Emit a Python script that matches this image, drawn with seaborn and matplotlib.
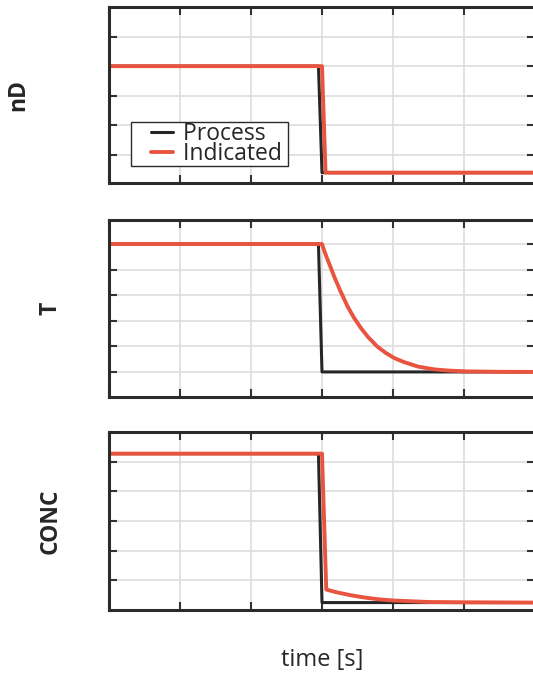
import numpy as np
import pandas as pd
import matplotlib
matplotlib.use("Agg")
import matplotlib.pyplot as plt
from matplotlib.legend_handler import HandlerLine2D
import seaborn as sns

# ---- data ----
series_names = ["Process", "Indicated"]
panel_labels = ["nD", "T", "CONC"]
x_label = "time [s]"

# nD panel
nd_proc_t = [0.0, 2.95, 3.0, 6.0]
nd_proc_v = [4.0, 4.0, 0.4, 0.4]
nd_ind_t = [0.0, 3.0, 3.05, 6.0]
nd_ind_v = [4.0, 4.0, 0.4, 0.4]

# T panel
t_proc_t = [0.0, 2.95, 3.0, 6.0]
t_proc_v = [5.0, 5.0, 0.0, 0.0]
t_ind_t = [0.0, 3.0, 3.03, 3.07, 3.12, 3.17, 3.25, 3.36, 3.45, 3.55, 3.65, 3.78, 3.9,
           4.02, 4.15, 4.35, 4.58, 4.8, 5.05, 5.5, 6.0]
t_ind_v = [5.0, 5.0, 4.75, 4.45, 4.1, 3.74, 3.22, 2.56, 2.12, 1.71, 1.36, 0.99, 0.74,
           0.54, 0.39, 0.21, 0.10, 0.05, 0.02, 0.005, 0.0]

# CONC panel
c_proc_t = [0.0, 2.95, 3.0, 6.0]
c_proc_v = [5.27, 5.27, 0.25, 0.25]
c_ind_t = [0.0, 3.0, 3.06, 3.2, 3.4, 3.6, 3.8, 4.0, 4.5, 5.0, 6.0]
c_ind_v = [5.27, 5.27, 0.69, 0.6, 0.5, 0.42, 0.36, 0.32, 0.27, 0.26, 0.25]

colors = {"Process": "#262626", "Indicated": "#e8543f"}

sns.set_theme(style="white")
plt.rcParams["font.family"] = ["Open Sans", "DejaVu Sans"]


class RightHalfLine(HandlerLine2D):
    """Draw the legend line only in the right part of the handle box."""
    frac = 0.51

    def create_artists(self, legend, orig_handle, xdescent, ydescent, width, height,
                       fontsize, trans):
        w2 = width * self.frac
        return super().create_artists(legend, orig_handle, xdescent - (width - w2),
                                      ydescent, w2, height, fontsize, trans)


fig = plt.figure(figsize=(5.33, 6.74), dpi=100, facecolor="white")

W, H = 533.0, 674.0
left = 109 / W
right = 535 / W
panels_px = [(7, 183), (220, 397), (432, 610)]
label_x = [-0.186, -0.108, -0.108]

datasets = [
    (nd_proc_t, nd_proc_v, nd_ind_t, nd_ind_v, (0.05, 6.0), [1, 2, 3, 4, 5]),
    (t_proc_t, t_proc_v, t_ind_t, t_ind_v, (-0.98, 5.94), [0, 1, 2, 3, 4, 5]),
    (c_proc_t, c_proc_v, c_ind_t, c_ind_v, (0.0, 6.0), [1, 2, 3, 4, 5]),
]

axes = []
for i, ((top, bot), (pt, pv, it, iv, ylim, yt)) in enumerate(zip(panels_px, datasets)):
    ax = fig.add_axes([left, 1 - bot / H, right - left, (bot - top) / H])
    df = pd.DataFrame({
        "time": pt + it,
        "value": pv + iv,
        "series": ["Process"] * len(pt) + ["Indicated"] * len(it),
    })
    sns.lineplot(data=df[df.series == "Process"], x="time", y="value", color=colors["Process"],
                 lw=2.2, ax=ax, label="Process", estimator=None, sort=False)
    sns.lineplot(data=df[df.series == "Indicated"], x="time", y="value", color=colors["Indicated"],
                 lw=2.8, ax=ax, label="Indicated", estimator=None, sort=False)
    ax.set_xlim(0, 6)
    ax.set_ylim(*ylim)
    ax.set_xticks(range(0, 7))
    ax.set_yticks(yt)
    ax.grid(True, color="#dddddd", lw=1.2)
    ax.set_axisbelow(True)
    ax.tick_params(direction="in", length=6, width=1.5, color="#333333",
                   top=True, right=True, bottom=True, left=True,
                   labelbottom=False, labelleft=False)
    for s in ax.spines.values():
        s.set_color("#2b2b2b")
        s.set_linewidth(2.2)
    ax.set_xlabel("")
    ax.set_ylabel(panel_labels[i], fontsize=16.5, fontweight="bold", color="#262626")
    ax.yaxis.set_label_coords(label_x[i], 0.5)
    if i == 0:
        handles, labels = ax.get_legend_handles_labels()
        leg = ax.legend(handles, [l + " " for l in labels],
                        loc="lower left", bbox_to_anchor=(0.052, 0.097), borderaxespad=0,
                        fontsize=16.5, frameon=True, fancybox=False, framealpha=1,
                        edgecolor="#2b2b2b", handlelength=1.81, handletextpad=0.44,
                        labelspacing=-0.17, borderpad=0.0,
                        handler_map={matplotlib.lines.Line2D: RightHalfLine()})
        leg.get_frame().set_linewidth(1.0)
        for t in leg.get_texts():
            t.set_color("#262626")
    else:
        if ax.get_legend():
            ax.get_legend().remove()
    axes.append(ax)

axes[-1].set_xlabel(x_label, fontsize=17, color="#262626")
axes[-1].xaxis.set_label_coords(0.5, -0.215)

fig.savefig("out.png", dpi=100, facecolor="white")
